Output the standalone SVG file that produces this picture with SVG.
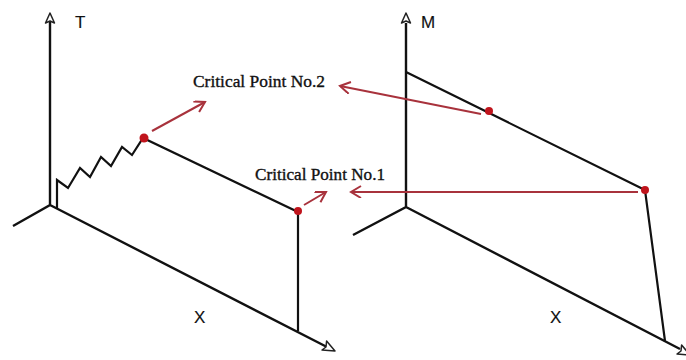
<svg xmlns="http://www.w3.org/2000/svg" width="686" height="360" viewBox="0 0 686 360">
<defs>
<style>
.ax{fill:none;stroke:#111;stroke-width:2.4;stroke-linejoin:miter}
.ln{fill:none;stroke:#111;stroke-width:2.2}
.hd{fill:#fff;stroke:#222;stroke-width:1.5;stroke-linejoin:round}
.rd{fill:none;stroke:#a8323c;stroke-width:2;marker-end:url(#ah)}
.dot{fill:#c0141c}
.lab{font-family:"Liberation Sans",Arial,sans-serif;font-size:17px;fill:#111;stroke:#111;stroke-width:0.15}
.cp{font-family:"Liberation Serif","Times New Roman",serif;font-size:17px;fill:#111;stroke:#111;stroke-width:0.35}
</style>
<marker id="ah" markerUnits="userSpaceOnUse" markerWidth="16" markerHeight="16" refX="12" refY="6" orient="auto">
<path d="M2,0 L12,6 L2,12" fill="none" stroke="#a8323c" stroke-width="2"/>
</marker>
</defs>
<g id="left-axes">
<path class="ax" d="M50,22 V205 L13,226 M50,205 L327,347"/>
<polygon class="hd" points="50,13 45.5,23 50,21 54.5,23"/>
<polygon class="hd" points="335,351 322,350 326,347 326.6,341"/>
<text class="lab" x="75" y="28">T</text>
<text class="lab" x="194" y="323">X</text>
</g>
<g id="left-curve">
<path class="ln" d="M57,208 V180 L68,188 L80,168 L90,177 L101,157 L111,166 L122,147 L132,155 L143,138 L298,212 V331"/>
</g>
<g id="right-axes">
<path class="ax" d="M406,23 V207 L353,235 M406,207 L680,349"/>
<polygon class="hd" points="406,13 401.5,23 406,21 410.5,23"/>
<polygon class="hd" points="690,355 677,354 681,351 681.6,345"/>
<text class="lab" x="421" y="28">M</text>
<text class="lab" x="550" y="323">X</text>
</g>
<g id="right-curve">
<path class="ln" d="M406,72 L645,190 L665,341"/>
</g>
<g id="connectors">
<path class="rd" d="M152,131 L205,102"/>
<path class="rd" d="M304,205 L326,192"/>
<path class="rd" d="M481,114 L340,86"/>
<path class="rd" d="M638,192 L351,192"/>
</g>
<g id="points">
<circle class="dot" cx="144" cy="138" r="4.5"/>
<circle class="dot" cx="298" cy="211" r="4"/>
<circle class="dot" cx="489" cy="111" r="4"/>
<circle class="dot" cx="645" cy="190" r="4"/>
</g>
<g id="labels">
<text class="cp" x="193" y="87" textLength="132" lengthAdjust="spacingAndGlyphs">Critical Point No.2</text>
<text class="cp" x="255" y="180" textLength="130" lengthAdjust="spacingAndGlyphs">Critical Point No.1</text>
</g>
</svg>
